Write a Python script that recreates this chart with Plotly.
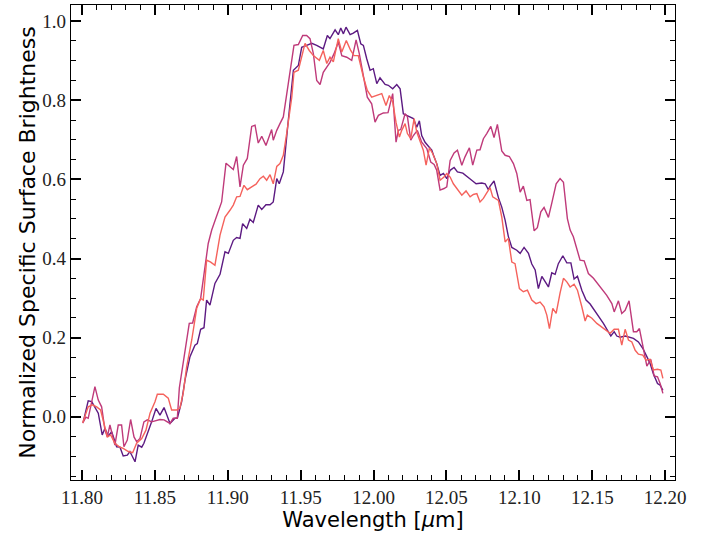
import plotly.graph_objects as go

# ---- data (wavelength in micron, normalized brightness) ----
wl_purple = [11.8009, 11.8043, 11.8067, 11.8089, 11.8112, 11.8139, 11.8158, 11.8180, 11.8204, 11.8238,
             11.8261, 11.8283, 11.8311, 11.8329, 11.8364, 11.8386, 11.8410, 11.8425, 11.8455, 11.8478,
             11.8508, 11.8535, 11.8563, 11.8604, 11.8638, 11.8654, 11.8684, 11.8707, 11.8741, 11.8775,
             11.8791, 11.8814, 11.8837, 11.8855, 11.8878, 11.8912, 11.8947, 11.8981, 11.9004, 11.9038,
             11.9061, 11.9084, 11.9102, 11.9130, 11.9152, 11.9175, 11.9209, 11.9233, 11.9262, 11.9290,
             11.9312, 11.9336, 11.9353, 11.9381, 11.9415, 11.9450, 11.9484, 11.9507, 11.9541, 11.9576,
             11.9610, 11.9655, 11.9683, 11.9701, 11.9736, 11.9758, 11.9775, 11.9793, 11.9811, 11.9839,
             11.9861, 11.9889, 11.9912, 11.9930, 11.9953, 11.9976, 11.9998, 12.0022, 12.0044, 12.0079,
             12.0101, 12.0131, 12.0159, 12.0182, 12.0204, 12.0227, 12.0250, 12.0273, 12.0296, 12.0314,
             12.0330, 12.0353, 12.0376, 12.0399, 12.0415, 12.0433, 12.0456, 12.0479, 12.0502, 12.0525,
             12.0552, 12.0575, 12.0612, 12.0643, 12.0673, 12.0703, 12.0742, 12.0765, 12.0787, 12.0799,
             12.0826, 12.0856, 12.0879, 12.0902, 12.0924, 12.0948, 12.0982, 12.1005, 12.1032, 12.1062,
             12.1085, 12.1108, 12.1130, 12.1154, 12.1176, 12.1199, 12.1222, 12.1245, 12.1267, 12.1298,
             12.1325, 12.1353, 12.1375, 12.1398, 12.1428, 12.1457, 12.1485, 12.1531, 12.1576, 12.1627,
             12.1650, 12.1668, 12.1691, 12.1725, 12.1782, 12.1816, 12.1846, 12.1874, 12.1896, 12.1919,
             12.1947, 12.1965, 12.1984]
sb_purple = [-0.013, 0.040, 0.038, 0.025, 0.009, -0.046, -0.029, -0.049, -0.038, -0.076,
             -0.077, -0.099, -0.097, -0.088, -0.114, -0.072, -0.077, -0.067, -0.038, -0.013,
             0.021, 0.004, 0.023, -0.017, -0.004, -0.004, 0.038, 0.093, 0.152, 0.181,
             0.185, 0.221, 0.225, 0.295, 0.282, 0.337, 0.360, 0.417, 0.413, 0.446,
             0.453, 0.451, 0.488, 0.476, 0.499, 0.491, 0.535, 0.524, 0.536, 0.536,
             0.543, 0.602, 0.589, 0.619, 0.749, 0.876, 0.888, 0.934, 0.939, 0.944,
             0.939, 0.930, 0.964, 0.956, 0.978, 0.966, 0.983, 0.968, 0.985, 0.966,
             0.970, 0.977, 0.943, 0.939, 0.905, 0.876, 0.880, 0.842, 0.857, 0.840,
             0.838, 0.829, 0.840, 0.829, 0.766, 0.762, 0.758, 0.754, 0.732, 0.748,
             0.711, 0.694, 0.684, 0.674, 0.657, 0.640, 0.610, 0.615, 0.602, 0.623,
             0.630, 0.619, 0.616, 0.608, 0.598, 0.589, 0.591, 0.589, 0.574, 0.583,
             0.596, 0.554, 0.530, 0.497, 0.456, 0.428, 0.421, 0.413, 0.428, 0.413,
             0.386, 0.371, 0.324, 0.355, 0.343, 0.328, 0.364, 0.360, 0.387, 0.407,
             0.389, 0.389, 0.348, 0.355, 0.320, 0.295, 0.285, 0.261, 0.236, 0.204,
             0.215, 0.204, 0.201, 0.204, 0.198, 0.189, 0.173, 0.152, 0.135, 0.108,
             0.084, 0.080, 0.067]

wl_magenta = [11.8005, 11.8027, 11.8043, 11.8089, 11.8112, 11.8135, 11.8158, 11.8174, 11.8192, 11.8211,
              11.8226, 11.8249, 11.8272, 11.8288, 11.8311, 11.8334, 11.8357, 11.8375, 11.8398, 11.8425,
              11.8448, 11.8478, 11.8508, 11.8535, 11.8563, 11.8604, 11.8626, 11.8654, 11.8668, 11.8707,
              11.8736, 11.8759, 11.8787, 11.8814, 11.8844, 11.8866, 11.8890, 11.8924, 11.8958, 11.8988,
              11.9015, 11.9038, 11.9061, 11.9084, 11.9107, 11.9134, 11.9164, 11.9187, 11.9209, 11.9233,
              11.9262, 11.9301, 11.9312, 11.9336, 11.9358, 11.9381, 11.9415, 11.9454, 11.9484, 11.9514,
              11.9541, 11.9564, 11.9587, 11.9610, 11.9633, 11.9655, 11.9679, 11.9701, 11.9729, 11.9758,
              11.9782, 11.9816, 11.9850, 11.9880, 11.9902, 11.9930, 11.9957, 11.9987, 12.0010, 12.0033,
              12.0067, 12.0099, 12.0131, 12.0154, 12.0170, 12.0186, 12.0216, 12.0232, 12.0255, 12.0273,
              12.0300, 12.0330, 12.0365, 12.0392, 12.0415, 12.0433, 12.0456, 12.0483, 12.0502, 12.0525,
              12.0552, 12.0575, 12.0605, 12.0627, 12.0657, 12.0680, 12.0708, 12.0730, 12.0753, 12.0776,
              12.0804, 12.0826, 12.0849, 12.0879, 12.0902, 12.0931, 12.0959, 12.0982, 12.1005, 12.1027,
              12.1051, 12.1073, 12.1101, 12.1123, 12.1147, 12.1169, 12.1199, 12.1222, 12.1252, 12.1279,
              12.1302, 12.1329, 12.1348, 12.1370, 12.1394, 12.1416, 12.1444, 12.1473, 12.1508, 12.1554,
              12.1599, 12.1634, 12.1650, 12.1679, 12.1702, 12.1725, 12.1752, 12.1782, 12.1805, 12.1823,
              12.1851, 12.1874, 12.1901, 12.1924, 12.1947, 12.1965, 12.1984]
sb_magenta = [-0.016, -0.001, -0.004, 0.076, 0.042, 0.025, -0.034, -0.051, -0.021, -0.046,
              -0.072, -0.021, -0.021, -0.076, -0.059, -0.007, -0.051, -0.063, -0.055, -0.013,
              -0.008, -0.013, -0.010, -0.007, -0.008, -0.017, -0.004, -0.004, 0.073, 0.160,
              0.236, 0.237, 0.278, 0.299, 0.387, 0.438, 0.472, 0.505, 0.543, 0.641,
              0.631, 0.625, 0.658, 0.581, 0.636, 0.653, 0.734, 0.737, 0.692, 0.709,
              0.686, 0.726, 0.699, 0.724, 0.741, 0.758, 0.842, 0.939, 0.941, 0.964,
              0.964, 0.956, 0.918, 0.850, 0.840, 0.871, 0.884, 0.896, 0.918, 0.947,
              0.913, 0.909, 0.901, 0.953, 0.918, 0.863, 0.808, 0.791, 0.745, 0.762,
              0.768, 0.769, 0.817, 0.694, 0.724, 0.726, 0.766, 0.759, 0.699, 0.711,
              0.724, 0.694, 0.678, 0.644, 0.638, 0.623, 0.573, 0.577, 0.581, 0.648,
              0.667, 0.674, 0.636, 0.657, 0.680, 0.636, 0.674, 0.675, 0.703, 0.716,
              0.734, 0.706, 0.739, 0.672, 0.661, 0.658, 0.640, 0.615, 0.568, 0.583,
              0.547, 0.549, 0.470, 0.478, 0.518, 0.529, 0.504, 0.540, 0.589, 0.602,
              0.593, 0.501, 0.472, 0.455, 0.421, 0.396, 0.394, 0.362, 0.350, 0.328,
              0.307, 0.286, 0.265, 0.293, 0.261, 0.269, 0.293, 0.215, 0.215, 0.223,
              0.173, 0.128, 0.145, 0.103, 0.101, 0.084, 0.059]

wl_coral = [11.8005, 11.8021, 11.8043, 11.8073, 11.8101, 11.8128, 11.8151, 11.8174, 11.8197, 11.8226,
            11.8256, 11.8283, 11.8318, 11.8348, 11.8375, 11.8410, 11.8439, 11.8467, 11.8501, 11.8517,
            11.8558, 11.8592, 11.8615, 11.8650, 11.8672, 11.8695, 11.8718, 11.8753, 11.8787, 11.8814,
            11.8832, 11.8855, 11.8883, 11.8912, 11.8947, 11.8981, 11.9015, 11.9038, 11.9061, 11.9084,
            11.9111, 11.9134, 11.9164, 11.9194, 11.9221, 11.9244, 11.9267, 11.9290, 11.9312, 11.9336,
            11.9358, 11.9381, 11.9404, 11.9439, 11.9454, 11.9484, 11.9530, 11.9559, 11.9587, 11.9628,
            11.9655, 11.9679, 11.9701, 11.9724, 11.9758, 11.9782, 11.9813, 11.9843, 11.9866, 11.9895,
            11.9930, 11.9957, 11.9987, 12.0022, 12.0056, 12.0085, 12.0108, 12.0131, 12.0154, 12.0177,
            12.0193, 12.0216, 12.0232, 12.0255, 12.0278, 12.0296, 12.0319, 12.0341, 12.0360, 12.0383,
            12.0406, 12.0433, 12.0456, 12.0483, 12.0502, 12.0525, 12.0547, 12.0575, 12.0605, 12.0634,
            12.0662, 12.0684, 12.0708, 12.0730, 12.0753, 12.0776, 12.0799, 12.0817, 12.0833, 12.0856,
            12.0879, 12.0902, 12.0924, 12.0948, 12.0970, 12.1000, 12.1027, 12.1055, 12.1085, 12.1114,
            12.1142, 12.1169, 12.1188, 12.1206, 12.1229, 12.1252, 12.1279, 12.1302, 12.1325, 12.1348,
            12.1375, 12.1398, 12.1428, 12.1451, 12.1466, 12.1497, 12.1531, 12.1576, 12.1622, 12.1650,
            12.1679, 12.1702, 12.1725, 12.1748, 12.1771, 12.1794, 12.1816, 12.1846, 12.1869, 12.1896,
            12.1919, 12.1947, 12.1970, 12.1984]
sb_coral = [-0.015, 0.004, 0.025, 0.030, 0.025, 0.017, -0.017, -0.051, -0.046, -0.067,
            -0.076, -0.080, -0.088, -0.091, -0.067, -0.055, -0.034, 0.009, 0.038, 0.057,
            0.057, 0.047, 0.017, 0.017, 0.022, 0.061, 0.126, 0.194, 0.274, 0.299,
            0.295, 0.396, 0.391, 0.383, 0.459, 0.505, 0.522, 0.535, 0.556, 0.557,
            0.585, 0.574, 0.581, 0.588, 0.602, 0.608, 0.598, 0.612, 0.589, 0.633,
            0.640, 0.661, 0.716, 0.808, 0.871, 0.876, 0.944, 0.926, 0.913, 0.901,
            0.926, 0.893, 0.909, 0.897, 0.956, 0.922, 0.951, 0.926, 0.913, 0.913,
            0.859, 0.825, 0.808, 0.812, 0.817, 0.787, 0.812, 0.796, 0.744, 0.707,
            0.724, 0.741, 0.716, 0.703, 0.754, 0.720, 0.699, 0.674, 0.636, 0.680,
            0.665, 0.640, 0.598, 0.606, 0.615, 0.606, 0.589, 0.574, 0.560, 0.571,
            0.556, 0.562, 0.564, 0.543, 0.552, 0.566, 0.579, 0.556, 0.552, 0.547,
            0.505, 0.442, 0.451, 0.391, 0.387, 0.324, 0.316, 0.320, 0.295, 0.286,
            0.290, 0.278, 0.257, 0.223, 0.274, 0.261, 0.313, 0.350, 0.341, 0.328,
            0.335, 0.320, 0.278, 0.242, 0.257, 0.249, 0.236, 0.223, 0.211, 0.221,
            0.221, 0.181, 0.221, 0.194, 0.189, 0.168, 0.158, 0.156, 0.143, 0.145,
            0.118, 0.120, 0.118, 0.097]

x_range = [11.7925, 12.2067]
y_range = [-0.160, 1.041]
x_tickvals = [11.80, 11.85, 11.90, 11.95, 12.00, 12.05, 12.10, 12.15, 12.20]
x_ticktext = ["11.80", "11.85", "11.90", "11.95", "12.00", "12.05", "12.10", "12.15", "12.20"]
y_tickvals = [0.0, 0.2, 0.4, 0.6, 0.8, 1.0]
y_ticktext = ["0.0", "0.2", "0.4", "0.6", "0.8", "1.0"]

colors = ["#5c1a82", "#bf3a7a", "#f5625c"]

fig = go.Figure()
for wl, sb, c in [(wl_purple, sb_purple, colors[0]),
                  (wl_magenta, sb_magenta, colors[1]),
                  (wl_coral, sb_coral, colors[2])]:
    fig.add_trace(go.Scatter(x=wl, y=sb, mode="lines",
                             line=dict(color=c, width=1.4), showlegend=False))

tick_font = dict(family="Liberation Serif", size=19, color="#222")
axis_common = dict(showline=True, linecolor="black", linewidth=1.3, mirror="allticks",
                   ticks="inside", ticklen=10, tickwidth=1.8, tickcolor="black",
                   showgrid=False, zeroline=False, tickfont=tick_font)

fig.update_xaxes(range=x_range, tickmode="array", tickvals=x_tickvals, ticktext=x_ticktext,
                 minor=dict(dtick=0.01, tick0=11.80, ticks="inside", ticklen=5,
                            tickwidth=1.3, tickcolor="black"),
                 title=dict(text="Wavelength [<i>μ</i>m]",
                            font=dict(family="DejaVu Sans", size=21, color="black"),
                            standoff=4),
                 **axis_common)
fig.update_yaxes(range=y_range, tickmode="array", tickvals=y_tickvals, ticktext=y_ticktext,
                 minor=dict(dtick=0.05, tick0=0.0, ticks="inside", ticklen=5,
                            tickwidth=1.3, tickcolor="black"),
                 title=dict(text="Normalized Specific Surface Brightness",
                            font=dict(family="DejaVu Sans", size=22, color="black"),
                            standoff=0),
                 ticklabelstandoff=0,
                 **axis_common)

fig.update_layout(width=712, height=542, plot_bgcolor="white", paper_bgcolor="white",
                  margin=dict(l=71, r=37, t=5, b=62))

fig.write_html("out.html")
